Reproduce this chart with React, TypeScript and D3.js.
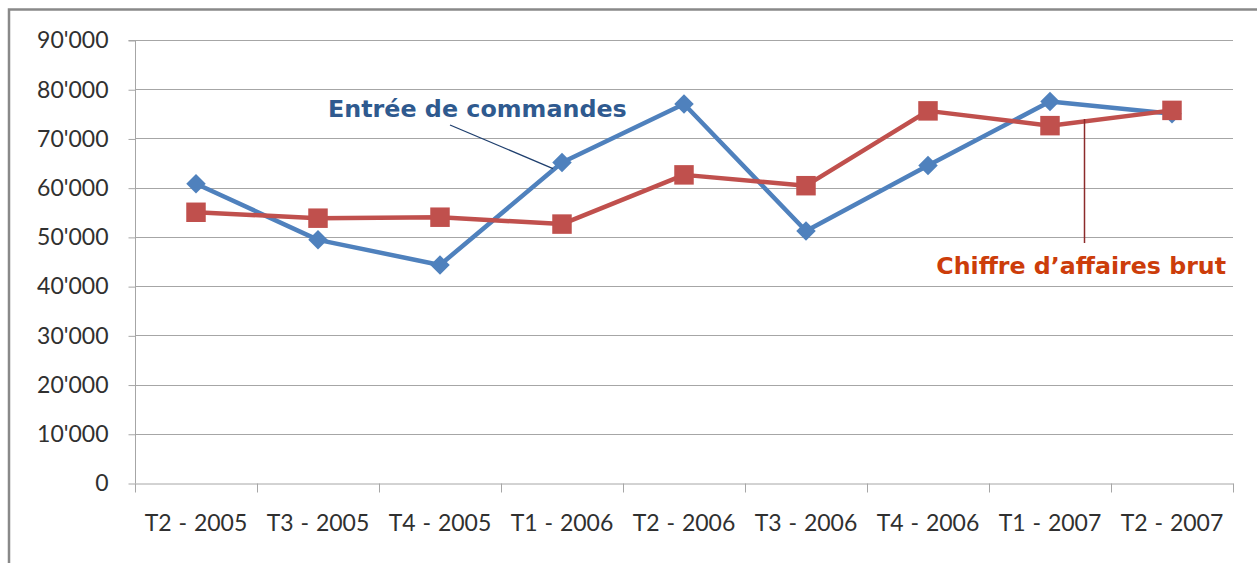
import { useEffect, useRef } from 'react';
import * as d3 from 'd3';

// Trimestres
const QUARTERS = [
  'T2 - 2005',
  'T3 - 2005',
  'T4 - 2005',
  'T1 - 2006',
  'T2 - 2006',
  'T3 - 2006',
  'T4 - 2006',
  'T1 - 2007',
  'T2 - 2007'
];

// Entrée de commandes
const ORDERS = [60800, 49400, 44300, 65100, 77000, 51200, 64500, 77500, 75000];

// Chiffre d'affaires brut
const REVENUE = [55000, 53800, 54000, 52600, 62600, 60400, 75600, 72600, 75700];

const Y_TICKS = [0, 10000, 20000, 30000, 40000, 50000, 60000, 70000, 80000, 90000];

const BLUE = '#4f81bd';
const RED = '#c0504d';

const fmt = (v: number) => {
  if (v === 0) return '0';
  const s = String(v);
  return s.slice(0, s.length - 3) + "'" + s.slice(s.length - 3);
};

export default function App() {
  const ref = useRef<SVGSVGElement>(null);

  useEffect(() => {
    if (!ref.current) return;
    const width = 1257;
    const height = 563;
    const left = 135;
    const right = 1233;
    const top = 40;
    const bottom = 483;

    const svg = d3.select(ref.current);
    svg.selectAll('*').remove();
    svg.attr('width', width).attr('height', height);

    // cadre
    svg
      .append('path')
      .attr('d', `M9,${height} L9,9.5 L${width},9.5`)
      .attr('fill', 'none')
      .attr('stroke', '#898989')
      .attr('stroke-width', 2.5);

    const x = d3.scaleBand<string>().domain(QUARTERS).range([left, right]);
    const y = d3.scaleLinear().domain([0, 90000]).range([bottom, top]);
    const cx = (q: string) => (x(q) ?? 0) + x.bandwidth() / 2;

    // grille
    svg
      .append('g')
      .selectAll('line')
      .data(Y_TICKS.slice(1))
      .join('line')
      .attr('x1', left)
      .attr('x2', right)
      .attr('y1', (d) => Math.round(y(d)) + 0.5)
      .attr('y2', (d) => Math.round(y(d)) + 0.5)
      .attr('stroke', '#a6a6a6')
      .attr('stroke-width', 1.2);

    // axe Y
    const yAxis = svg
      .append('g')
      .attr('transform', `translate(${left + 0.5},0.5)`)
      .call(
        d3
          .axisLeft(y)
          .tickValues(Y_TICKS)
          .tickSize(7)
          .tickPadding(20)
          .tickFormat((d) => fmt(d as number))
      );
    yAxis.selectAll('line').attr('stroke', '#a6a6a6');
    yAxis.select('.domain').attr('stroke', '#a6a6a6').attr('d', `M-7,${top}H0V${bottom}`);
    yAxis
      .selectAll('text')
      .attr('fill', '#303030')
      .attr('font-family', 'Lato, sans-serif')
      .attr('font-size', 23);

    // axe X
    const xAxis = svg
      .append('g')
      .attr('transform', `translate(0,${bottom + 0.5})`)
      .call(d3.axisBottom(x).tickSize(0).tickPadding(31));
    xAxis.select('.domain').attr('stroke', '#a6a6a6');
    xAxis
      .selectAll('text')
      .attr('fill', '#303030')
      .attr('font-family', 'Lato, sans-serif')
      .attr('font-size', 23)
      .attr('word-spacing', 1);
    const edges = [...QUARTERS.map((q) => x(q) ?? 0), right];
    xAxis
      .append('g')
      .selectAll('line')
      .data(edges)
      .join('line')
      .attr('x1', (d) => Math.round(d) + 0.5)
      .attr('x2', (d) => Math.round(d) + 0.5)
      .attr('y1', 0)
      .attr('y2', 9)
      .attr('stroke', '#a6a6a6');

    const line = d3
      .line<number>()
      .x((_d, i) => cx(QUARTERS[i]))
      .y((d) => y(d));

    // séries
    svg
      .append('path')
      .datum(ORDERS)
      .attr('d', line)
      .attr('fill', 'none')
      .attr('stroke', BLUE)
      .attr('stroke-width', 4.5)
      .attr('stroke-linejoin', 'round');

    svg
      .append('path')
      .datum(REVENUE)
      .attr('d', line)
      .attr('fill', 'none')
      .attr('stroke', RED)
      .attr('stroke-width', 4.5)
      .attr('stroke-linejoin', 'round');

    svg
      .append('g')
      .selectAll('path')
      .data(ORDERS)
      .join('path')
      .attr('d', d3.symbol(d3.symbolSquare, 190))
      .attr('transform', (d, i) => `translate(${cx(QUARTERS[i])},${y(d)}) rotate(45)`)
      .attr('fill', BLUE);

    svg
      .append('g')
      .selectAll('path')
      .data(REVENUE)
      .join('path')
      .attr('d', d3.symbol(d3.symbolSquare, 380))
      .attr('transform', (d, i) => `translate(${cx(QUARTERS[i])},${y(d)})`)
      .attr('fill', RED);

    // annotations
    svg
      .append('line')
      .attr('x1', 450)
      .attr('y1', 125)
      .attr('x2', cx(QUARTERS[3]) - 9)
      .attr('y2', y(ORDERS[3]) + 6)
      .attr('stroke', '#1f3f6e')
      .attr('stroke-width', 1.3);
    svg
      .append('text')
      .attr('x', 328)
      .attr('y', 117)
      .attr('fill', '#2f5a8f')
      .attr('font-family', 'DejaVu Sans, sans-serif')
      .attr('font-weight', 'bold')
      .attr('font-size', 23.8)
      .text('Entrée de commandes');

    svg
      .append('line')
      .attr('x1', 1084.5)
      .attr('y1', 119)
      .attr('x2', 1084.5)
      .attr('y2', 243)
      .attr('stroke', '#8c2b2b')
      .attr('stroke-width', 1.5);
    svg
      .append('text')
      .attr('x', 1226)
      .attr('y', 274)
      .attr('text-anchor', 'end')
      .attr('fill', '#cc3d0a')
      .attr('font-family', 'DejaVu Sans, sans-serif')
      .attr('font-weight', 'bold')
      .attr('font-size', 23.7)
      .text('Chiffre d’affaires brut');
  }, []);

  return (
    <div style={{ position: 'absolute', left: 0, top: 0, background: '#fff' }}>
      <svg ref={ref} style={{ display: 'block' }}></svg>
    </div>
  );
}
